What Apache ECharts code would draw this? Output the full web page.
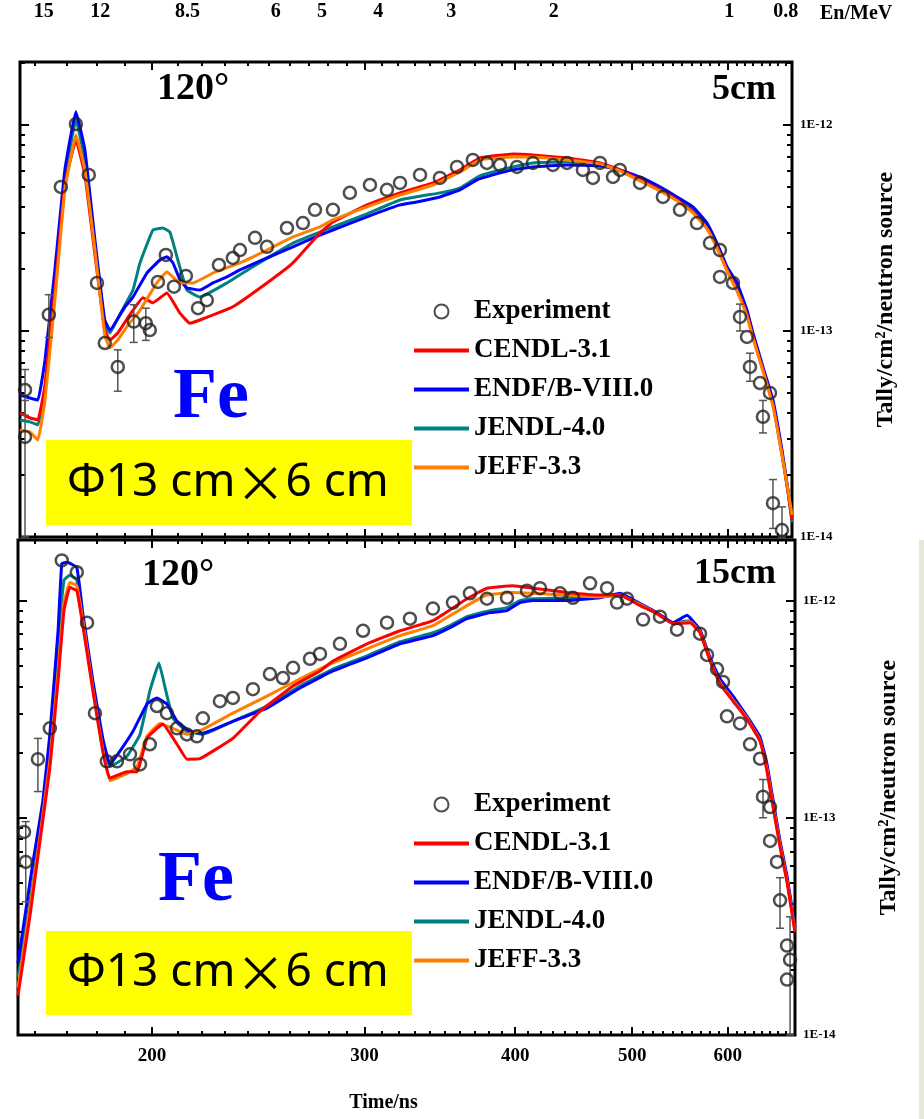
<!DOCTYPE html>
<html><head><meta charset="utf-8">
<script src="https://cdn.jsdelivr.net/npm/echarts@6/dist/echarts.min.js"></script>
<style>html,body{margin:0;padding:0;background:#fff}#c{width:924px;height:1119px}</style>
</head><body><div id="c"></div>
<script>
// ---------- names, colours, ticks ----------
const seriesNames = ['Experiment', 'CENDL-3.1', 'ENDF/B-VIII.0', 'JENDL-4.0', 'JEFF-3.3'];
const seriesColors = ['#222222', '#ff0000', '#0000ff', '#008080', '#ff8000'];
const timeMajorTicks = [200, 300, 400, 500, 600];
const timeMinorTicks = [160, 170, 180, 190, 210, 220, 230, 240, 250, 260, 270, 280, 290,
  310, 320, 330, 340, 350, 360, 370, 380, 390, 410, 420, 430, 440, 450, 460, 470, 480, 490,
  510, 520, 530, 540, 550, 560, 570, 580, 590, 610, 620, 630, 640, 650, 660, 670];
const energyTickLabels = [15, 12, 8.5, 6, 5, 4, 3, 2, 1, 0.8];
const yMajorTicks = [1e-14, 1e-13, 1e-12];
const yMinorTicks = [2e-14, 3e-14, 4e-14, 5e-14, 6e-14, 7e-14, 8e-14, 9e-14,
  2e-13, 3e-13, 4e-13, 5e-13, 6e-13, 7e-13, 8e-13, 9e-13, 2e-12];
const yTickLabels = ['1E-14', '1E-13', '1E-12'];
const timeRangeTop = [155.5, 678.4];
const timeRangeBottom = [154.9, 682.2];
const energyRange = [0.7804, 16.48];
const yRangeTop = [1e-14, 2.02e-12];
const yRangeBottom = [1e-14, 1.9e-12];

// ---------- top panel (5 cm) ----------
const topExp = [[157.0,5.17e-14],[157.0,3.06e-14],[164.3,1.20e-13],[168.1,5.00e-13],[173.0,1.01e-12],[177.3,5.72e-13],
  [180.1,1.71e-13],[182.8,8.74e-14],[187.4,6.69e-14],[193.2,1.11e-13],[197.7,1.09e-13],[199.2,1.01e-13],
  [202.3,1.73e-13],[205.4,2.34e-13],[208.6,1.64e-13],[213.4,1.85e-13],[218.4,1.29e-13],[222.1,1.41e-13],
  [227.3,2.09e-13],[233.4,2.26e-13],[236.6,2.47e-13],[243.5,2.83e-13],[249.1,2.56e-13],[258.8,3.16e-13],
  [266.8,3.34e-13],[273.0,3.87e-13],[282.5,3.87e-13],[291.8,4.68e-13],[303.2,5.11e-13],[313.2,4.84e-13],
  [321.1,5.23e-13],[333.6,5.72e-13],[346.5,5.53e-13],[358.0,6.25e-13],[369.0,6.76e-13],[379.0,6.54e-13],
  [388.5,6.39e-13],[401.4,6.25e-13],[413.8,6.54e-13],[429.9,6.39e-13],[441.6,6.54e-13],[455.2,6.05e-13],
  [464.0,5.53e-13],[470.3,6.54e-13],[482.1,5.59e-13],[488.5,6.05e-13],[507.6,5.23e-13],[530.3,4.47e-13],
  [547.8,3.87e-13],[565.9,3.34e-13],[580.1,2.67e-13],[591.3,2.47e-13],[591.3,1.83e-13],[606.2,1.71e-13],
  [614.3,1.17e-13],[622.6,9.35e-14],[626.1,6.69e-14],[638.2,5.59e-14],[641.8,3.83e-14],[650.5,5.00e-14],
  [654.2,1.46e-14],[665.6,1.08e-14]];
const topExpErr = [[157.0,3.9e-14,6.5e-14],[157.0,1.0e-14,4.6e-14],[164.3,9.3e-14,1.5e-13],[187.4,5.1e-14,8.1e-14],
  [193.2,8.8e-14,1.34e-13],[197.7,9.0e-14,1.29e-13],[614.3,1.0e-13,1.35e-13],[626.1,5.7e-14,7.8e-14],
  [641.8,3.2e-14,4.6e-14],[654.2,1.1e-14,1.9e-14],[665.6,1.0e-14,1.4e-14]];
const topCendl = [[155.5,4.0e-14],[158.5,3.78e-14],[160.9,3.70e-14],[163.1,5.47e-14],[166.2,1.58e-13],[169.4,5.11e-13],
  [173.0,8.46e-13],[176.0,5.72e-13],[179.4,2.34e-13],[182.8,1.01e-13],[184.6,9.04e-14],[187.4,9.78e-14],
  [191.8,1.20e-13],[196.6,1.45e-13],[200.4,1.37e-13],[205.8,1.53e-13],[211.0,1.22e-13],[215.0,1.09e-13],
  [219.2,1.13e-13],[233.4,1.31e-13],[249.1,1.71e-13],[261.8,2.14e-13],[275.6,2.99e-13],[282.5,3.38e-13],
  [301.5,4.09e-13],[321.1,4.68e-13],[341.9,5.23e-13],[360.0,6.05e-13],[374.0,6.91e-13],[398.3,7.23e-13],
  [413.8,7.15e-13],[441.6,6.91e-13],[470.3,6.54e-13],[488.5,6.05e-13],[507.6,5.41e-13],[527.3,4.84e-13],
  [544.7,4.32e-13],[561.6,3.78e-13],[576.8,3.16e-13],[587.9,2.56e-13],[599.2,1.98e-13],[610.8,1.58e-13],
  [622.6,1.20e-13],[629.7,9.35e-14],[641.8,6.47e-14],[654.2,4.37e-14],[665.6,2.50e-14],[673.2,1.66e-14],[678.4,1.21e-14]];
const topEndf = [[155.5,4.89e-14],[158.5,4.73e-14],[160.9,4.62e-14],[163.1,7.23e-14],[166.2,1.98e-13],[169.4,6.05e-13],
  [173.0,1.16e-12],[176.0,7.56e-13],[179.4,2.76e-13],[182.8,1.13e-13],[184.6,1.01e-13],[190.0,1.31e-13],
  [192.9,1.46e-13],[198.1,1.91e-13],[203.1,2.21e-13],[205.8,2.29e-13],[208.2,2.14e-13],[211.0,1.77e-13],
  [213.8,1.62e-13],[219.2,1.58e-13],[224.7,1.71e-13],[230.8,1.83e-13],[236.6,1.98e-13],[249.1,2.26e-13],
  [261.8,2.56e-13],[275.6,2.92e-13],[282.5,3.09e-13],[301.5,3.58e-13],[321.1,4.09e-13],[331.6,4.23e-13],
  [346.5,4.47e-13],[360.0,4.84e-13],[371.9,5.41e-13],[383.4,5.72e-13],[398.3,6.05e-13],[413.8,6.25e-13],
  [441.6,6.39e-13],[470.3,6.32e-13],[488.5,6.05e-13],[507.6,5.59e-13],[527.3,5.00e-13],[544.7,4.47e-13],
  [561.6,4.00e-13],[576.8,3.34e-13],[587.9,2.67e-13],[599.2,2.05e-13],[610.8,1.71e-13],[622.6,1.26e-13],
  [629.7,9.78e-14],[641.8,6.69e-14],[654.2,4.62e-14],[665.6,2.64e-14],[673.2,1.69e-14],[678.4,1.25e-14]];
const topJendl = [[155.5,3.70e-14],[158.5,3.62e-14],[160.9,3.50e-14],[163.1,5.17e-14],[166.2,1.58e-13],[169.4,5.41e-13],
  [173.0,1.06e-12],[176.0,6.76e-13],[179.4,2.62e-13],[182.8,1.07e-13],[184.6,9.78e-14],[188.1,1.20e-13],
  [192.9,1.58e-13],[195.5,2.14e-13],[200.4,3.09e-13],[204.2,3.16e-13],[207.0,3.02e-13],[209.8,2.29e-13],
  [213.8,1.58e-13],[219.2,1.46e-13],[230.8,1.71e-13],[242.5,2.05e-13],[261.8,2.67e-13],[275.6,3.02e-13],
  [282.5,3.20e-13],[301.5,3.70e-13],[321.1,4.32e-13],[346.5,4.68e-13],[360.0,4.94e-13],[374.0,5.66e-13],
  [398.3,6.25e-13],[413.8,6.54e-13],[441.6,6.61e-13],[470.3,6.47e-13],[488.5,6.05e-13],[507.6,5.47e-13],
  [527.3,4.89e-13],[544.7,4.37e-13],[561.6,3.87e-13],[576.8,3.23e-13],[587.9,2.62e-13],[599.2,2.00e-13],
  [610.8,1.64e-13],[622.6,1.22e-13],[629.7,9.56e-14],[641.8,6.54e-14],[654.2,4.47e-14],[665.6,2.56e-14],
  [673.2,1.66e-14],[678.4,1.18e-14]];
const topJeff = [[155.5,3.31e-14],[158.5,3.23e-14],[160.9,2.96e-14],[163.1,4.62e-14],[166.2,1.41e-13],[169.4,4.84e-13],
  [173.0,8.94e-13],[176.0,6.05e-13],[179.4,2.47e-13],[182.8,9.56e-14],[184.6,8.27e-14],[187.4,9.04e-14],
  [190.7,1.05e-13],[195.5,1.26e-13],[201.9,1.71e-13],[205.8,1.93e-13],[211.0,1.71e-13],[216.3,1.71e-13],
  [224.7,1.91e-13],[236.6,2.14e-13],[249.1,2.47e-13],[261.8,2.86e-13],[275.6,3.20e-13],[282.5,3.46e-13],
  [301.5,4.00e-13],[321.1,4.57e-13],[341.9,5.11e-13],[360.0,5.91e-13],[374.0,6.76e-13],[398.3,6.99e-13],
  [413.8,6.99e-13],[441.6,6.76e-13],[470.3,6.47e-13],[488.5,5.98e-13],[507.6,5.35e-13],[527.3,4.78e-13],
  [544.7,4.28e-13],[561.6,3.74e-13],[576.8,3.13e-13],[587.9,2.53e-13],[599.2,1.96e-13],[610.8,1.56e-13],
  [622.6,1.18e-13],[629.7,9.25e-14],[641.8,6.39e-14],[654.2,4.33e-14],[665.6,2.50e-14],[673.2,1.69e-14],[678.4,1.28e-14]];

// ---------- bottom panel (15 cm) ----------
const botExp = [[156.7,8.61e-14],[157.2,6.26e-14],[160.9,1.86e-13],[164.6,2.58e-13],[168.4,1.53e-12],[173.3,1.35e-12],
  [176.7,7.91e-13],[179.4,3.03e-13],[183.5,1.82e-13],[187.1,1.82e-13],[191.8,1.96e-13],[195.5,1.76e-13],
  [199.2,2.18e-13],[201.9,3.27e-13],[205.8,3.03e-13],[209.8,2.58e-13],[213.8,2.42e-13],[217.9,2.37e-13],
  [220.4,2.87e-13],[227.7,3.44e-13],[233.4,3.56e-13],[242.5,3.91e-13],[250.5,4.59e-13],[256.8,4.40e-13],
  [261.8,4.90e-13],[270.4,5.39e-13],[275.6,5.68e-13],[286.3,6.32e-13],[299.2,7.26e-13],[313.2,7.91e-13],
  [327.2,8.25e-13],[341.9,9.18e-13],[355.2,9.79e-13],[366.9,1.08e-12],[379.0,1.02e-12],[393.8,1.03e-12],
  [409.1,1.11e-12],[419.4,1.14e-12],[435.7,1.08e-12],[446.6,1.03e-12],[461.4,1.20e-12],[476.6,1.14e-12],
  [485.8,9.79e-13],[495.1,1.02e-12],[510.5,8.17e-13],[527.3,8.43e-13],[544.7,7.34e-13],[569.1,7.04e-13],
  [576.8,5.62e-13],[587.9,4.84e-13],[594.7,4.22e-13],[599.2,2.93e-13],[614.3,2.72e-13],[626.1,2.18e-13],
  [638.2,1.87e-13],[641.8,1.25e-13],[650.5,1.12e-13],[650.5,7.82e-14],[659.2,6.26e-14],[663.0,4.17e-14],
  [671.9,2.58e-14],[675.8,2.22e-14],[671.9,1.80e-14]];
const botExpErr = [[157.2,4.1e-14,9.6e-14],[160.9,1.32e-13,2.32e-13],[641.8,1.0e-13,1.5e-13],[663.0,3.1e-14,5.3e-14],
  [675.8,1.0e-14,3.5e-14]];
const botCendl = [[154.9,1.52e-14],[158.5,3.56e-14],[161.5,7.74e-14],[164.6,1.69e-13],[167.2,4.26e-13],[169.1,8.99e-13],
  [171.0,1.15e-12],[173.3,1.11e-12],[175.3,7.66e-13],[178.7,3.83e-13],[182.1,2.02e-13],[184.6,1.52e-13],
  [190.7,1.63e-13],[194.4,1.63e-13],[198.1,2.32e-13],[201.9,2.58e-13],[204.2,2.70e-13],[209.8,2.18e-13],
  [213.8,1.86e-13],[219.2,1.87e-13],[233.4,2.32e-13],[245.8,3.09e-13],[261.8,4.04e-13],[275.6,4.74e-13],
  [282.5,5.27e-13],[301.5,6.32e-13],[321.1,7.26e-13],[341.9,8.08e-13],[364.8,1.02e-12],[379.0,1.14e-12],
  [398.3,1.17e-12],[413.8,1.14e-12],[441.6,1.09e-12],[470.3,1.06e-12],[488.5,1.06e-12],[507.6,9.48e-13],
  [524.3,8.71e-13],[540.6,7.82e-13],[558.4,7.91e-13],[569.1,7.11e-13],[580.1,5.27e-13],[591.3,4.13e-13],
  [606.2,3.44e-13],[622.6,2.84e-13],[638.2,2.25e-13],[646.8,1.63e-13],[654.2,1.12e-13],[663.0,7.34e-14],
  [671.9,5.05e-14],[682.2,2.97e-14]];
const botEndf = [[154.9,2.15e-14],[159.4,6.26e-14],[162.4,1.19e-13],[164.6,2.42e-13],[167.2,7.26e-13],[168.4,1.48e-12],
  [170.1,1.50e-12],[173.3,1.42e-12],[175.3,8.71e-13],[178.7,4.26e-13],[182.1,2.32e-13],[184.6,1.76e-13],
  [188.1,2.02e-13],[192.9,2.50e-13],[198.1,3.34e-13],[201.9,3.56e-13],[205.8,3.34e-13],[209.8,2.78e-13],
  [215.0,2.50e-13],[220.4,2.45e-13],[233.4,2.78e-13],[249.1,3.20e-13],[265.3,3.96e-13],[282.5,4.74e-13],
  [301.5,5.45e-13],[321.1,6.32e-13],[341.9,6.89e-13],[353.2,7.50e-13],[364.8,8.25e-13],[381.2,8.80e-13],
  [393.8,8.99e-13],[403.7,9.79e-13],[413.8,1.00e-12],[441.6,1.00e-12],[470.3,1.03e-12],[488.5,1.08e-12],
  [507.6,9.69e-13],[524.3,8.80e-13],[540.6,7.91e-13],[555.2,8.55e-13],[569.1,7.34e-13],[580.1,5.45e-13],
  [591.3,4.36e-13],[606.2,3.63e-13],[622.6,2.93e-13],[638.2,2.35e-13],[646.8,1.76e-13],[654.2,1.21e-13],
  [663.0,7.82e-14],[671.9,5.39e-14],[682.2,3.13e-14]];
const botJendl = [[154.9,1.84e-14],[159.4,5.05e-14],[162.4,1.07e-13],[164.6,2.13e-13],[167.2,6.53e-13],[169.1,1.24e-12],
  [171.0,1.31e-12],[173.3,1.24e-12],[175.3,8.25e-13],[178.7,4.04e-13],[182.1,2.20e-13],[184.6,1.72e-13],
  [190.7,1.92e-13],[195.5,2.42e-13],[199.2,3.83e-13],[202.7,5.16e-13],[205.4,3.83e-13],[208.2,2.87e-13],
  [213.8,2.50e-13],[220.4,2.42e-13],[233.4,2.78e-13],[249.1,3.27e-13],[265.3,4.04e-13],[282.5,4.84e-13],
  [301.5,5.56e-13],[321.1,6.46e-13],[341.9,7.11e-13],[353.2,7.66e-13],[364.8,8.43e-13],[381.2,8.99e-13],
  [393.8,9.28e-13],[403.7,1.00e-12],[413.8,1.02e-12],[441.6,1.03e-12],[470.3,1.04e-12],[488.5,1.06e-12],
  [507.6,9.58e-13],[524.3,8.71e-13],[540.6,7.91e-13],[558.4,8.08e-13],[569.1,7.26e-13],[580.1,5.39e-13],
  [591.3,4.26e-13],[606.2,3.56e-13],[622.6,2.90e-13],[638.2,2.30e-13],[646.8,1.70e-13],[654.2,1.17e-13],
  [663.0,7.58e-14],[671.9,5.22e-14],[682.2,3.03e-14]];
const botJeff = [[154.9,1.65e-14],[158.5,3.87e-14],[161.5,8.17e-14],[164.6,1.82e-13],[167.2,4.64e-13],[169.1,9.79e-13],
  [171.0,1.21e-12],[173.3,1.17e-12],[175.3,8.08e-13],[178.7,3.91e-13],[182.1,2.06e-13],[184.6,1.48e-13],
  [190.7,1.60e-13],[194.4,1.72e-13],[198.1,2.37e-13],[203.1,2.72e-13],[208.2,2.58e-13],[213.8,2.42e-13],
  [220.4,2.55e-13],[233.4,3.03e-13],[249.1,3.63e-13],[265.3,4.36e-13],[282.5,5.16e-13],[301.5,5.99e-13],
  [321.1,6.89e-13],[341.9,7.66e-13],[364.8,9.48e-13],[379.0,1.06e-12],[398.3,1.09e-12],[413.8,1.08e-12],
  [441.6,1.06e-12],[470.3,1.04e-12],[488.5,1.06e-12],[507.6,9.58e-13],[524.3,8.71e-13],[540.6,7.82e-13],
  [558.4,7.99e-13],[569.1,7.19e-13],[580.1,5.33e-13],[591.3,4.17e-13],[606.2,3.48e-13],[622.6,2.87e-13],
  [638.2,2.27e-13],[646.8,1.67e-13],[654.2,1.15e-13],[663.0,7.50e-14],[671.9,5.16e-14],[682.2,3.00e-14]];

// ---------- helpers ----------
const SERIF = 'Liberation Serif';
const BLACK = '#000';
function timeAxis(grid, position, ticks, len, range, extra) {
  return Object.assign({
    type: 'log', gridIndex: grid, position: position, min: range[0], max: range[1],
    axisLine: { show: false }, splitLine: { show: false }, minorTick: { show: false },
    axisTick: { show: true, inside: true, length: len, customValues: ticks, lineStyle: { color: BLACK, width: 2 } },
    axisLabel: { show: false }
  }, extra || {});
}
function valueAxis(grid, position, ticks, len, range, extra) {
  return Object.assign({
    type: 'log', logBase: 10, gridIndex: grid, position: position, min: range[0], max: range[1],
    axisLine: { show: false }, splitLine: { show: false }, minorTick: { show: false },
    axisTick: { show: true, inside: true, length: len, customValues: ticks, lineStyle: { color: BLACK, width: 2 } },
    axisLabel: { show: false }
  }, extra || {});
}
function yLabelFmt(v) {
  const idx = yMajorTicks.findIndex(function (m) { return Math.abs(Math.log10(m) - Math.log10(v)) < 0.01; });
  return idx >= 0 ? yTickLabels[idx] : '';
}
const yNameStyle = { fontFamily: SERIF, fontWeight: 'bold', fontSize: 24, color: BLACK };
function yLabeled(grid, range) {
  return valueAxis(grid, 'right', yMajorTicks, 9, range, {
    axisLabel: { show: true, customValues: yMajorTicks, formatter: yLabelFmt, margin: 8,
      fontFamily: SERIF, fontWeight: 'bold', fontSize: 13, color: BLACK },
    name: 'Tally/cm²/neutron source', nameLocation: 'middle', nameRotate: 90, nameGap: 82,
    nameMoveOverlap: false, nameTextStyle: yNameStyle
  });
}
function errRender(params, api) {
  const t = api.value(0);
  const lo = api.coord([t, api.value(1)]);
  const hi = api.coord([t, api.value(2)]);
  const st = { stroke: '#555', lineWidth: 1.5 };
  return { type: 'group', children: [
    { type: 'line', shape: { x1: lo[0], y1: lo[1], x2: hi[0], y2: hi[1] }, style: st },
    { type: 'line', shape: { x1: lo[0] - 4, y1: lo[1], x2: lo[0] + 4, y2: lo[1] }, style: st },
    { type: 'line', shape: { x1: hi[0] - 4, y1: hi[1], x2: hi[0] + 4, y2: hi[1] }, style: st }
  ] };
}
function lineS(name, data, color, xi, yi, z) {
  return { type: 'line', name: name, data: data, xAxisIndex: xi, yAxisIndex: yi, symbol: 'none', showSymbol: false,
    smooth: 0.1, lineStyle: { color: color, width: 3 }, itemStyle: { color: color }, z: z, animation: false };
}
function expS(data, xi, yi) {
  return { type: 'scatter', name: 'Experiment', data: data, xAxisIndex: xi, yAxisIndex: yi,
    symbol: 'circle', symbolSize: 12,
    itemStyle: { color: 'rgba(0,0,0,0)', borderColor: seriesColors[0], borderWidth: 2.5 }, z: 6, animation: false };
}
function errS(data, xi, yi) {
  return { type: 'custom', data: data, xAxisIndex: xi, yAxisIndex: yi, encode: { x: 0, y: [1, 2] },
    renderItem: errRender, silent: true, z: 4, animation: false };
}
const lineIcon = 'path://M0 0H55V4H0Z';
function legendAt(top) {
  return { orient: 'vertical', left: 409, top: top, itemWidth: 55, itemHeight: 14, itemGap: 12,
    selectedMode: false,
    data: seriesNames.map(function (n, i) { return i === 0 ? { name: n } : { name: n, icon: lineIcon }; }),
    textStyle: { fontFamily: SERIF, fontWeight: 'bold', fontSize: 27, lineHeight: 27, color: BLACK } };
}

const option = {
  animation: false,
  backgroundColor: '#fff',
  textStyle: { fontFamily: SERIF },
  grid: [
    { left: 20, top: 62, width: 772, height: 475, show: true, borderColor: BLACK, borderWidth: 3, outerBoundsMode: 'none', containLabel: false },
    { left: 18, top: 540, width: 777, height: 495, show: true, borderColor: BLACK, borderWidth: 3, outerBoundsMode: 'none', containLabel: false }
  ],
  xAxis: [
    timeAxis(0, 'bottom', timeMajorTicks, 8, timeRangeTop),
    timeAxis(0, 'bottom', timeMinorTicks, 4, timeRangeTop),
    timeAxis(0, 'top', timeMajorTicks, 8, timeRangeTop),
    timeAxis(0, 'top', timeMinorTicks, 4, timeRangeTop),
    { type: 'log', gridIndex: 0, position: 'top', inverse: true, min: energyRange[0], max: energyRange[1],
      axisLine: { show: false }, axisTick: { show: false }, splitLine: { show: false }, minorTick: { show: false },
      axisLabel: { show: true, customValues: energyTickLabels, margin: 40, fontSize: 20,
        fontFamily: SERIF, fontWeight: 'bold', color: BLACK,
        formatter: function (v) { return String(Math.round(v * 10) / 10); } },
      name: 'En/MeV', nameLocation: 'start', nameGap: 28, nameMoveOverlap: false,
      nameTextStyle: { fontFamily: SERIF, fontWeight: 'bold', fontSize: 20, color: BLACK, verticalAlign: 'bottom', padding: [0, 0, 38, 0] } },
    timeAxis(1, 'bottom', timeMajorTicks, 8, timeRangeBottom, {
      axisLabel: { show: true, customValues: timeMajorTicks, margin: 12, fontSize: 19,
        fontFamily: SERIF, fontWeight: 'bold', color: BLACK,
        formatter: function (v) { return String(Math.round(v)); } },
      name: 'Time/ns', nameLocation: 'middle', nameGap: 58, nameMoveOverlap: false,
      nameTextStyle: { fontFamily: SERIF, fontWeight: 'bold', fontSize: 20, color: BLACK, padding: [0, 46, 0, 0] } }),
    timeAxis(1, 'bottom', timeMinorTicks, 4, timeRangeBottom),
    timeAxis(1, 'top', timeMajorTicks, 8, timeRangeBottom),
    timeAxis(1, 'top', timeMinorTicks, 4, timeRangeBottom)
  ],
  yAxis: [
    yLabeled(0, yRangeTop),
    valueAxis(0, 'right', yMinorTicks, 5, yRangeTop),
    valueAxis(0, 'left', yMajorTicks, 9, yRangeTop),
    valueAxis(0, 'left', yMinorTicks, 5, yRangeTop),
    yLabeled(1, yRangeBottom),
    valueAxis(1, 'right', yMinorTicks, 5, yRangeBottom),
    valueAxis(1, 'left', yMajorTicks, 9, yRangeBottom),
    valueAxis(1, 'left', yMinorTicks, 5, yRangeBottom)
  ],
  legend: [legendAt(293), legendAt(786)],
  series: [
    errS(topExpErr, 0, 0),
    lineS('JENDL-4.0', topJendl, seriesColors[3], 0, 0, 2),
    lineS('ENDF/B-VIII.0', topEndf, seriesColors[2], 0, 0, 2),
    lineS('CENDL-3.1', topCendl, seriesColors[1], 0, 0, 3),
    lineS('JEFF-3.3', topJeff, seriesColors[4], 0, 0, 3),
    expS(topExp, 0, 0),
    errS(botExpErr, 5, 4),
    lineS('JENDL-4.0', botJendl, seriesColors[3], 5, 4, 2),
    lineS('ENDF/B-VIII.0', botEndf, seriesColors[2], 5, 4, 2),
    lineS('JEFF-3.3', botJeff, seriesColors[4], 5, 4, 3),
    lineS('CENDL-3.1', botCendl, seriesColors[1], 5, 4, 3),
    expS(botExp, 5, 4)
  ],
  graphic: [
    { type: 'rect', shape: { x: 919, y: 540, width: 5, height: 579 }, style: { fill: '#e3ebd8' }, z: 0 },
    { type: 'text', x: 157, y: 70, style: { text: '120°', fontSize: 38, fontFamily: SERIF, fontWeight: 'bold', fill: BLACK }, z: 10 },
    { type: 'text', x: 776, y: 72, style: { text: '5cm', fontSize: 36, fontFamily: SERIF, fontWeight: 'bold', fill: BLACK, align: 'right' }, z: 10 },
    { type: 'text', x: 142, y: 556, style: { text: '120°', fontSize: 38, fontFamily: SERIF, fontWeight: 'bold', fill: BLACK }, z: 10 },
    { type: 'text', x: 776, y: 556, style: { text: '15cm', fontSize: 36, fontFamily: SERIF, fontWeight: 'bold', fill: BLACK, align: 'right' }, z: 10 },
    { type: 'text', x: 211, y: 398, style: { text: 'Fe', fontSize: 72, fontFamily: SERIF, fontWeight: 'bold', fill: '#0000ff', align: 'center', verticalAlign: 'middle' }, z: 10 },
    { type: 'text', x: 196, y: 881, style: { text: 'Fe', fontSize: 72, fontFamily: SERIF, fontWeight: 'bold', fill: '#0000ff', align: 'center', verticalAlign: 'middle' }, z: 10 },
    { type: 'rect', shape: { x: 46, y: 440, width: 366, height: 85 }, style: { fill: '#ffff00' }, z: 20 },
    { type: 'rect', shape: { x: 46, y: 931, width: 366, height: 84 }, style: { fill: '#ffff00' }, z: 20 },
    { type: 'text', x: 67, y: 483, z: 21, style: { text: '{a|Φ13 cm}{x|×}{a|6 cm}', verticalAlign: 'middle', fill: BLACK,
      rich: { a: { fontFamily: 'Noto Sans', fontSize: 46, fill: BLACK }, x: { fontFamily: 'Noto Sans CJK JP', fontSize: 50, fill: BLACK } } } },
    { type: 'text', x: 67, y: 973, z: 21, style: { text: '{a|Φ13 cm}{x|×}{a|6 cm}', verticalAlign: 'middle', fill: BLACK,
      rich: { a: { fontFamily: 'Noto Sans', fontSize: 46, fill: BLACK }, x: { fontFamily: 'Noto Sans CJK JP', fontSize: 50, fill: BLACK } } } }
  ]
};
const chart = echarts.init(document.getElementById('c'), null, { renderer: 'canvas' });
chart.setOption(option);
</script>
</body></html>
